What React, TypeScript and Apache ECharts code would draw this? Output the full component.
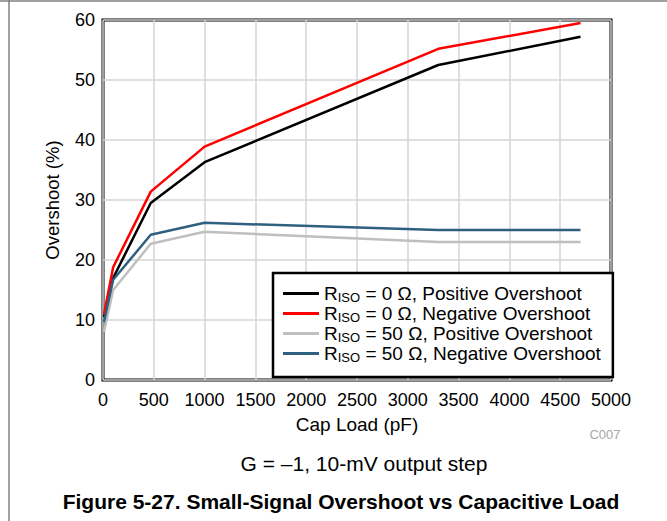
import React, { useEffect, useRef } from "react";
import * as echarts from "echarts";

const capLoad = [10, 100, 470, 1000, 3300, 4700];
const riso0Pos = [10.5, 17.0, 29.5, 36.3, 52.5, 57.2];
const riso0Neg = [11.0, 18.8, 31.4, 38.9, 55.2, 59.5];
const riso50Pos = [8.0, 15.0, 22.7, 24.7, 23.0, 23.0];
const riso50Neg = [9.7, 16.7, 24.2, 26.2, 25.0, 25.0];

const seriesNames = [
  "RISO = 0 Ω, Positive Overshoot",
  "RISO = 0 Ω, Negative Overshoot",
  "RISO = 50 Ω, Positive Overshoot",
  "RISO = 50 Ω, Negative Overshoot",
];
const seriesColors = ["#000000", "#ff0000", "#bfbfbf", "#2f6080"];
const seriesData = [riso0Pos, riso0Neg, riso50Pos, riso50Neg];

const FONT = "'Liberation Sans', Arial, sans-serif";

export default function App() {
  const ref = useRef<HTMLDivElement>(null);
  useEffect(() => {
    if (!ref.current) return;
    const chart = echarts.init(ref.current, undefined, { renderer: "svg" });
    const option: any = {
      animation: false,
      backgroundColor: "#ffffff",
      textStyle: { fontFamily: FONT },
      grid: {
        left: 103,
        top: 20,
        width: 508,
        height: 360,
        show: true,
        borderColor: "#000",
        borderWidth: 3,
        containLabel: false,
        outerBoundsMode: "none",
      },
      xAxis: {
        type: "value",
        min: 0,
        max: 5000,
        interval: 500,
        axisLine: { show: false },
        axisTick: { show: false },
        axisLabel: {
          color: "#000",
          fontSize: 18,
          fontFamily: FONT,
          margin: 11,
          formatter: (v: number) => String(v),
        },
        splitLine: { show: true, lineStyle: { color: "#d4d4d4", width: 1.5 } },
      },
      yAxis: {
        type: "value",
        min: 0,
        max: 60,
        interval: 10,
        axisLine: { show: false },
        axisTick: { show: false },
        axisLabel: { color: "#000", fontSize: 18, fontFamily: FONT, margin: 8 },
        splitLine: { show: true, lineStyle: { color: "#d4d4d4", width: 1.5 } },
      },
      legend: {
        orient: "vertical",
        left: 273,
        top: 273,
        padding: [11, 12, 13, 10],
        itemGap: 0,
        itemWidth: 36,
        itemHeight: 3,
        itemTextGap: 9,
        icon: "rect",
        backgroundColor: "#fff",
        borderColor: "#000",
        borderWidth: 2.5,
        data: seriesNames,
        formatter: (name: string) => "{r|R}{s|ISO}{r|" + name.slice(4) + "}",
        textStyle: {
          fontFamily: FONT,
          color: "#000",
          rich: {
            r: { fontSize: 19, fontFamily: FONT, color: "#000", lineHeight: 20 },
            s: { fontSize: 13, fontFamily: FONT, color: "#000", padding: [8, 0, 0, 0] },
          },
        },
      },
      series: seriesNames.map((n, i) => ({
        name: n,
        type: "line",
        symbol: "none",
        color: seriesColors[i],
        lineStyle: { width: 2.5, color: seriesColors[i] },
        data: capLoad.map((x, j) => [x, seriesData[i][j]]),
        z: 2 + i,
      })),
      graphic: [
        { type: "line", shape: { x1: 0, y1: 1, x2: 667, y2: 1 }, style: { stroke: "#808080", lineWidth: 1.5 } },
        { type: "line", shape: { x1: 9, y1: 0, x2: 9, y2: 521 }, style: { stroke: "#808080", lineWidth: 1.5 } },
        {
          type: "text",
          x: 52,
          y: 200,
          rotation: Math.PI / 2,
          style: { text: "Overshoot (%)", font: `18.5px ${FONT}`, fill: "#000", align: "center", verticalAlign: "middle" },
        },
        {
          type: "text",
          x: 357,
          y: 424,
          style: { text: "Cap Load (pF)", font: `19px ${FONT}`, fill: "#000", align: "center", verticalAlign: "middle" },
        },
        {
          type: "text",
          x: 605,
          y: 434,
          style: { text: "C007", font: `13px ${FONT}`, fill: "#a6a6a6", align: "center", verticalAlign: "middle" },
        },
        {
          type: "text",
          x: 364,
          y: 463,
          style: { text: "G = –1, 10-mV output step", font: `21px ${FONT}`, fill: "#000", align: "center", verticalAlign: "middle" },
        },
        {
          type: "text",
          x: 341,
          y: 501,
          style: {
            text: "Figure 5-27. Small-Signal Overshoot vs Capacitive Load",
            font: `bold 21px ${FONT}`,
            fill: "#000",
            align: "center",
            verticalAlign: "middle",
          },
        },
      ],
    };
    chart.setOption(option);
    return () => chart.dispose();
  }, []);
  return (
    <div
      ref={ref}
      style={{ position: "fixed", left: 0, top: 0, width: 667, height: 521 }}
    />
  );
}
